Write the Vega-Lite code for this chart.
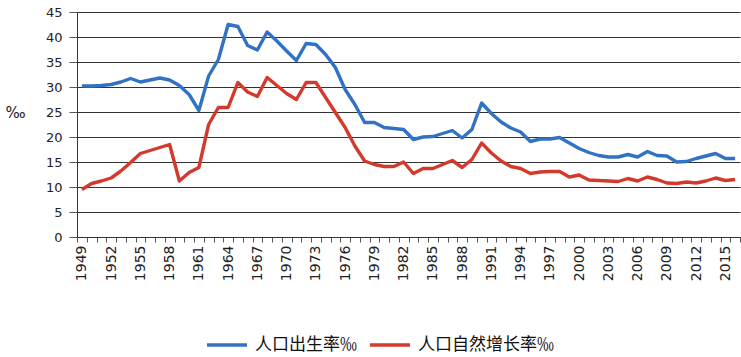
{
  "$schema": "https://vega.github.io/schema/vega-lite/v6.json",
  "width": 663,
  "height": 225,
  "autosize": "none",
  "padding": {"left": 77, "top": 12, "right": 1, "bottom": 120},
  "background": "white",
  "config": {"view": {"stroke": null}},
  "data": {"values": [
    {"year": 1949, "人口出生率‰": 30.2, "人口自然增长率‰": 9.5},
    {"year": 1950, "人口出生率‰": 30.2, "人口自然增长率‰": 10.7},
    {"year": 1951, "人口出生率‰": 30.3, "人口自然增长率‰": 11.2},
    {"year": 1952, "人口出生率‰": 30.5, "人口自然增长率‰": 11.8},
    {"year": 1953, "人口出生率‰": 31.0, "人口自然增长率‰": 13.2},
    {"year": 1954, "人口出生率‰": 31.7, "人口自然增长率‰": 14.9},
    {"year": 1955, "人口出生率‰": 31.0, "人口自然增长率‰": 16.7},
    {"year": 1956, "人口出生率‰": 31.4, "人口自然增长率‰": 17.3},
    {"year": 1957, "人口出生率‰": 31.8, "人口自然增长率‰": 17.9},
    {"year": 1958, "人口出生率‰": 31.4, "人口自然增长率‰": 18.5},
    {"year": 1959, "人口出生率‰": 30.3, "人口自然增长率‰": 11.2},
    {"year": 1960, "人口出生率‰": 28.5, "人口自然增长率‰": 12.9},
    {"year": 1961, "人口出生率‰": 25.3, "人口自然增长率‰": 13.9},
    {"year": 1962, "人口出生率‰": 32.2, "人口自然增长率‰": 22.5},
    {"year": 1963, "人口出生率‰": 35.5, "人口自然增长率‰": 25.9},
    {"year": 1964, "人口出生率‰": 42.5, "人口自然增长率‰": 25.9},
    {"year": 1965, "人口出生率‰": 42.1, "人口自然增长率‰": 30.9},
    {"year": 1966, "人口出生率‰": 38.3, "人口自然增长率‰": 29.0},
    {"year": 1967, "人口出生率‰": 37.4, "人口自然增长率‰": 28.1},
    {"year": 1968, "人口出生率‰": 41.0, "人口自然增长率‰": 31.9},
    {"year": 1969, "人口出生率‰": 39.2, "人口自然增长率‰": 30.3},
    {"year": 1970, "人口出生率‰": 37.2, "人口自然增长率‰": 28.7},
    {"year": 1971, "人口出生率‰": 35.3, "人口自然增长率‰": 27.5},
    {"year": 1972, "人口出生率‰": 38.7, "人口自然增长率‰": 30.9},
    {"year": 1973, "人口出生率‰": 38.5, "人口自然增长率‰": 30.9},
    {"year": 1974, "人口出生率‰": 36.5, "人口自然增长率‰": 27.9},
    {"year": 1975, "人口出生率‰": 33.9, "人口自然增长率‰": 24.9},
    {"year": 1976, "人口出生率‰": 29.5, "人口自然增长率‰": 21.9},
    {"year": 1977, "人口出生率‰": 26.5, "人口自然增长率‰": 18.2},
    {"year": 1978, "人口出生率‰": 22.9, "人口自然增长率‰": 15.2},
    {"year": 1979, "人口出生率‰": 22.9, "人口自然增长率‰": 14.5},
    {"year": 1980, "人口出生率‰": 21.9, "人口自然增长率‰": 14.1},
    {"year": 1981, "人口出生率‰": 21.7, "人口自然增长率‰": 14.1},
    {"year": 1982, "人口出生率‰": 21.5, "人口自然增长率‰": 15.0},
    {"year": 1983, "人口出生率‰": 19.5, "人口自然增长率‰": 12.7},
    {"year": 1984, "人口出生率‰": 20.0, "人口自然增长率‰": 13.7},
    {"year": 1985, "人口出生率‰": 20.1, "人口自然增长率‰": 13.7},
    {"year": 1986, "人口出生率‰": 20.7, "人口自然增长率‰": 14.5},
    {"year": 1987, "人口出生率‰": 21.3, "人口自然增长率‰": 15.3},
    {"year": 1988, "人口出生率‰": 19.8, "人口自然增长率‰": 13.9},
    {"year": 1989, "人口出生率‰": 21.5, "人口自然增长率‰": 15.5},
    {"year": 1990, "人口出生率‰": 26.8, "人口自然增长率‰": 18.8},
    {"year": 1991, "人口出生率‰": 24.7, "人口自然增长率‰": 16.8},
    {"year": 1992, "人口出生率‰": 23.0, "人口自然增长率‰": 15.2},
    {"year": 1993, "人口出生率‰": 21.8, "人口自然增长率‰": 14.1},
    {"year": 1994, "人口出生率‰": 21.0, "人口自然增长率‰": 13.7},
    {"year": 1995, "人口出生率‰": 19.1, "人口自然增长率‰": 12.7},
    {"year": 1996, "人口出生率‰": 19.6, "人口自然增长率‰": 13.0},
    {"year": 1997, "人口出生率‰": 19.6, "人口自然增长率‰": 13.1},
    {"year": 1998, "人口出生率‰": 19.9, "人口自然增长率‰": 13.1},
    {"year": 1999, "人口出生率‰": 18.8, "人口自然增长率‰": 12.0},
    {"year": 2000, "人口出生率‰": 17.7, "人口自然增长率‰": 12.4},
    {"year": 2001, "人口出生率‰": 16.9, "人口自然增长率‰": 11.4},
    {"year": 2002, "人口出生率‰": 16.3, "人口自然增长率‰": 11.3},
    {"year": 2003, "人口出生率‰": 16.0, "人口自然增长率‰": 11.2},
    {"year": 2004, "人口出生率‰": 16.0, "人口自然增长率‰": 11.1},
    {"year": 2005, "人口出生率‰": 16.5, "人口自然增长率‰": 11.7},
    {"year": 2006, "人口出生率‰": 16.0, "人口自然增长率‰": 11.2},
    {"year": 2007, "人口出生率‰": 17.1, "人口自然增长率‰": 12.0},
    {"year": 2008, "人口出生率‰": 16.3, "人口自然增长率‰": 11.5},
    {"year": 2009, "人口出生率‰": 16.2, "人口自然增长率‰": 10.8},
    {"year": 2010, "人口出生率‰": 15.0, "人口自然增长率‰": 10.7},
    {"year": 2011, "人口出生率‰": 15.1, "人口自然增长率‰": 11.0},
    {"year": 2012, "人口出生率‰": 15.7, "人口自然增长率‰": 10.8},
    {"year": 2013, "人口出生率‰": 16.2, "人口自然增长率‰": 11.2},
    {"year": 2014, "人口出生率‰": 16.7, "人口自然增长率‰": 11.8},
    {"year": 2015, "人口出生率‰": 15.7, "人口自然增长率‰": 11.3},
    {"year": 2016, "人口出生率‰": 15.7, "人口自然增长率‰": 11.5}
  ]},
  "transform": [{"fold": ["人口出生率‰", "人口自然增长率‰"], "as": ["series", "rate"]}],
  "mark": {"type": "line", "strokeWidth": 3.4, "strokeJoin": "round"},
  "encoding": {
    "x": {
      "field": "year", "type": "ordinal",
      "scale": {"type": "band", "paddingInner": 0, "paddingOuter": 0},
      "axis": {
        "title": null, "labelAngle": -90,
        "labelExpr": "(datum.value - 1949) % 3 == 0 ? datum.label : ''",
        "labelOverlap": false, "tickBand": "extent", "tickSize": 5,
        "tickColor": "#555", "domainColor": "#333", "grid": false,
        "labelFont": "DejaVu Sans", "labelFontSize": 14, "labelColor": "#222", "labelPadding": 3
      }
    },
    "y": {
      "field": "rate", "type": "quantitative",
      "scale": {"domain": [0, 45]},
      "axis": {
        "values": [0, 5, 10, 15, 20, 25, 30, 35, 40, 45],
        "title": "‰", "titleAngle": 0, "titleX": -62, "titleY": 100,
        "titleAlign": "center", "titleBaseline": "middle",
        "titleFont": "DejaVu Sans", "titleFontSize": 15, "titleFontWeight": "normal", "titleColor": "#222",
        "gridColor": "#333", "domainColor": "#333", "tickColor": "#555", "tickSize": 8,
        "labelPadding": 7, "labelFont": "DejaVu Sans", "labelFontSize": 13, "labelColor": "#222"
      }
    },
    "color": {
      "field": "series", "type": "nominal",
      "scale": {"domain": ["人口出生率‰", "人口自然增长率‰"], "range": ["#3272C4", "#D33A2C"]},
      "legend": {
        "orient": "none", "legendX": 128, "legendY": 311, "direction": "horizontal",
        "title": null, "symbolType": "stroke", "symbolSize": 1600, "symbolStrokeWidth": 3.5,
        "labelFont": "Noto Sans CJK SC", "labelFontSize": 17, "labelColor": "#111",
        "columnPadding": 6, "labelOffset": 6
      }
    }
  }
}
